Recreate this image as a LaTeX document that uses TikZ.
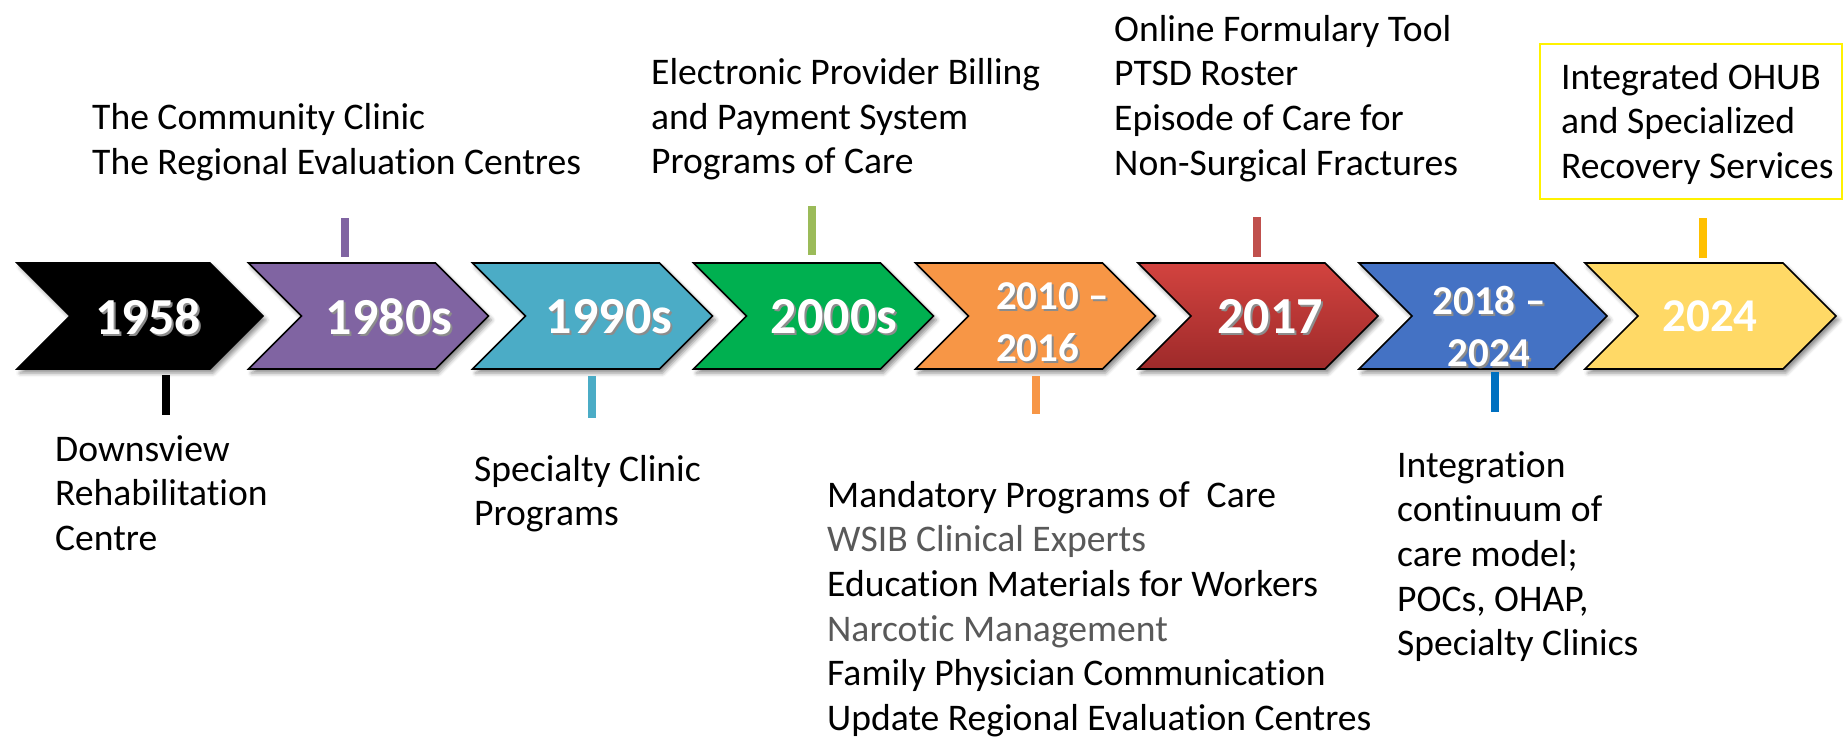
\documentclass[tikz,border=0pt]{standalone}
\usepackage{fontspec}
\setmainfont{Carlito}[Ligatures=NoCommon]
\usetikzlibrary{shapes.symbols,shadows.blur}

\definecolor{chPurple}{HTML}{8064A2}
\definecolor{chTeal}{HTML}{4BACC6}
\definecolor{chGreen}{HTML}{00B050}
\definecolor{chOrange}{HTML}{F79646}
\definecolor{chRedTop}{HTML}{D2433F}
\definecolor{chRedBot}{HTML}{9E2A2A}
\definecolor{chBlue}{HTML}{4472C4}
\definecolor{chYellow}{HTML}{FFD966}
\definecolor{stGreen}{HTML}{9BBB59}
\definecolor{stRed}{HTML}{C0504D}
\definecolor{stBlue}{HTML}{0070C0}
\definecolor{stGold}{HTML}{FFC000}
\definecolor{txtGray}{HTML}{595959}

\tikzset{
    chev/.style={signal, signal from=west, signal to=east, signal pointer angle=90,
        draw=black, line width=1.6pt, minimum width=240pt, minimum height=106pt,
        inner sep=0pt,
        blur shadow={shadow xshift=3pt, shadow yshift=-4pt,
            shadow blur radius=4pt, shadow opacity=45}},
    yr/.style={text=white, inner sep=0pt,
        font=\fontsize{52}{60}\selectfont\bfseries},
    yrshade/.style={yr, text=black!45},
    yrtwo/.style={text=white, inner sep=0pt,
        font=\fontsize{41}{52}\selectfont\bfseries},
    yrtwoshade/.style={yrtwo, text=black!45},
    stem/.style={line width=8pt},
    % Anker ist die Grundlinie der letzten Zeile
    note/.style={anchor=base west, align=left, inner sep=0pt,
        font=\fontsize{37.6}{44.7}\selectfont},
}

\begin{document}
\begin{tikzpicture}[x=1pt,y=-1pt]
            \useasboundingbox (0,0) rectangle (1845,737);
            % Pfeile:
            \node[chev, fill=black, minimum width=246pt] (c1) at (140,316) {};
            \node[chev, fill=chPurple] (c2) at (368.5,316) {};
            \node[chev, fill=chTeal] (c3) at (592.5,316) {};
            \node[chev, fill=chGreen] (c4) at (813.5,316) {};
            \node[chev, fill=chOrange] (c5) at (1035.5,316) {};
            \node[chev, top color=chRedTop, bottom color=chRedBot] (c6) at (1258,316) {};
            \node[chev, fill=chBlue, minimum width=248pt] (c7) at (1483,316) {};
            \node[chev, fill=chYellow, minimum width=251pt] (c8) at (1710.5,316) {};
            % Jahreszahlen:
            \node[yrshade] (y1s) at (150,319) {1958};
            \node[yr] (y1) at (148,316.5) {1958};
            \node[yrshade] (y2s) at (391,319) {1980s};
            \node[yr] (y2) at (389,316.5) {1980s};
            \node[yrshade] (y3s) at (611,319) {1990s};
            \node[yr] (y3) at (609,316.5) {1990s};
            \node[yrshade] (y4s) at (836,319) {2000s};
            \node[yr] (y4) at (834,316.5) {2000s};
            \node[yrtwoshade, anchor=west, align=left] (y5s) at (998,324.5) {2010 --\\2016};
            \node[yrtwo, anchor=west, align=left] (y5) at (996,322) {2010 --\\2016};
            \node[yrshade] (y6s) at (1272,319) {2017};
            \node[yr] (y6) at (1270,316.5) {2017};
            \node[yrtwoshade, align=center] (y7s) at (1491,328.5) {2018 --\\2024};
            \node[yrtwo, align=center] (y7) at (1489,326) {2018 --\\2024};
            \node[yr, font=\fontsize{47}{56}\selectfont\bfseries] (y8) at (1710,316) {2024};
            % Striche oben:
            \coordinate (s2a) at (345,218);  \coordinate (s2b) at (345,257);
            \coordinate (s4a) at (812,206);  \coordinate (s4b) at (812,255);
            \coordinate (s6a) at (1257,217); \coordinate (s6b) at (1257,257);
            \coordinate (s8a) at (1703,218); \coordinate (s8b) at (1703,258);
            \draw[stem, chPurple] (s2a) -- (s2b);
            \draw[stem, stGreen] (s4a) -- (s4b);
            \draw[stem, stRed] (s6a) -- (s6b);
            \draw[stem, stGold] (s8a) -- (s8b);
            % Striche unten:
            \coordinate (s1a) at (166,375);  \coordinate (s1b) at (166,415);
            \coordinate (s3a) at (592,376);  \coordinate (s3b) at (592,418);
            \coordinate (s5a) at (1036,376); \coordinate (s5b) at (1036,414);
            \coordinate (s7a) at (1495,372); \coordinate (s7b) at (1495,412);
            \draw[stem, black] (s1a) -- (s1b);
            \draw[stem, chTeal] (s3a) -- (s3b);
            \draw[stem, chOrange] (s5a) -- (s5b);
            \draw[stem, stBlue] (s7a) -- (s7b);
            % Texte oben:
            \node[note] (t2) at (92,174.2)
                {The Community Clinic\\The Regional Evaluation Centres};
            \node[note] (t4) at (651,173.9)
                {Electronic Provider Billing\\and Payment System\\Programs of Care};
            \node[note] (t6) at (1114,175.1)
                {Online Formulary Tool\\PTSD Roster\\Episode of Care for\\Non-Surgical Fractures};
            \draw[yellow, line width=2pt] (1540,44) rectangle (1842,199);
            \node[note] (t8) at (1561,178.4)
                {Integrated OHUB\\and Specialized\\Recovery Services};
            % Texte unten:
            \node[note] (t1) at (55,550.4)
                {Downsview\\Rehabilitation\\Centre};
            \node[note] (t3) at (474,525.7)
                {Specialty Clinic\\Programs};
            \node[note] (t5) at (827,730.5)
                {Mandatory Programs of\ \ Care\\
                 {\color{txtGray}WSIB Clinical Experts}\\
                 Education Materials for Workers\\
                 {\color{txtGray}Narcotic Management}\\
                 Family Physician Communication\\
                 Update Regional Evaluation Centres};
            \node[note] (t7) at (1397,655.8)
                {Integration\\continuum of\\care model;\\POCs, OHAP,\\Specialty Clinics};
        
\end{tikzpicture}
\end{document}
